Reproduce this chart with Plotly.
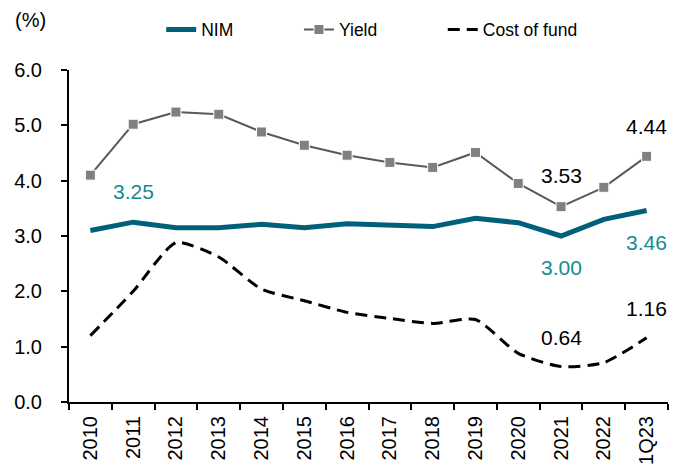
import plotly.graph_objects as go

years = ["2010", "2011", "2012", "2013", "2014", "2015", "2016",
         "2017", "2018", "2019", "2020", "2021", "2022", "1Q23"]
nim = [3.10, 3.25, 3.15, 3.15, 3.21, 3.15, 3.22, 3.20, 3.17, 3.32, 3.24, 3.00, 3.30, 3.46]
yield_ = [4.10, 5.02, 5.24, 5.20, 4.88, 4.64, 4.46, 4.33, 4.24, 4.51, 3.95, 3.53, 3.88, 4.44]
cost_of_fund = [1.20, 2.00, 2.88, 2.62, 2.04, 1.83, 1.62, 1.51, 1.42, 1.49, 0.88, 0.64, 0.71, 1.16]

TEAL = "#00607A"
LABEL_TEAL = "#148C8C"
FONT = "Liberation Sans, Arial, sans-serif"

fig = go.Figure()

fig.add_trace(go.Scatter(
    x=years, y=nim, name="NIM", mode="lines", legend="legend",
    line=dict(color=TEAL, width=5),
))
fig.add_trace(go.Scatter(
    x=years, y=yield_, name="Yield", mode="lines+markers", legend="legend2",
    line=dict(color="#595959", width=2),
    marker=dict(symbol="square", size=10, color="#808080",
                line=dict(color="white", width=1)),
))
fig.add_trace(go.Scatter(
    x=years, y=cost_of_fund, name="Cost of fund", mode="lines", legend="legend3",
    line=dict(color="black", width=3, dash="12px,7px", shape="spline", smoothing=0.6),
))

# data labels: (series, index, colour, vertical shift)
labels = [
    (nim, 1, LABEL_TEAL, 31),
    (nim, 11, LABEL_TEAL, -31),
    (nim, 13, LABEL_TEAL, -32),
    (yield_, 11, "black", 31),
    (yield_, 13, "black", 30),
    (cost_of_fund, 11, "black", 29),
    (cost_of_fund, 13, "black", 29),
]
for series, i, color, shift in labels:
    # category axis: annotation x given as category index
    fig.add_annotation(
        x=i, y=series[i], text=f"{series[i]:.2f}",
        showarrow=False, yshift=shift,
        font=dict(color=color, size=21, family=FONT),
    )

fig.add_annotation(
    x=-0.0935, y=1.15, xref="paper", yref="paper", xanchor="left", yanchor="middle",
    text="(%)", showarrow=False, font=dict(size=20, color="black", family=FONT),
)

# legends placed against the container so they don't push the top margin
legend_style = dict(orientation="h", xref="container", yref="container",
                    y=0.953, xanchor="left", yanchor="middle",
                    font=dict(size=17.5), bgcolor="rgba(0,0,0,0)")

# page body has an 8px margin, so the figure is shrunk by that much
fig.update_layout(
    width=677, height=460,
    margin=dict(l=61, r=17, t=62, b=66),
    plot_bgcolor="white", paper_bgcolor="white",
    font=dict(family=FONT, size=20, color="black"),
    showlegend=True,
    legend=dict(x=0.2263, **legend_style),
    legend2=dict(x=0.4298, **legend_style),
    legend3=dict(x=0.6422, **legend_style),
)
fig.update_xaxes(
    type="category", range=[-0.5, len(years) - 0.5],
    tickangle=-90, tickson="boundaries", automargin=False,
    showline=True, linecolor="black", linewidth=2,
    ticks="outside", ticklen=6, tickwidth=2, tickcolor="black",
    showgrid=False, tickfont=dict(size=20), ticklabelstandoff=4,
)
fig.update_yaxes(
    range=[0, 6], dtick=1, tickformat=".1f", automargin=False,
    showline=True, linecolor="black", linewidth=2,
    ticks="outside", ticklen=6, tickwidth=2, tickcolor="black",
    showgrid=False, zeroline=False, tickfont=dict(size=20),
    ticklabelstandoff=15,
)

fig.write_html("out.html")
